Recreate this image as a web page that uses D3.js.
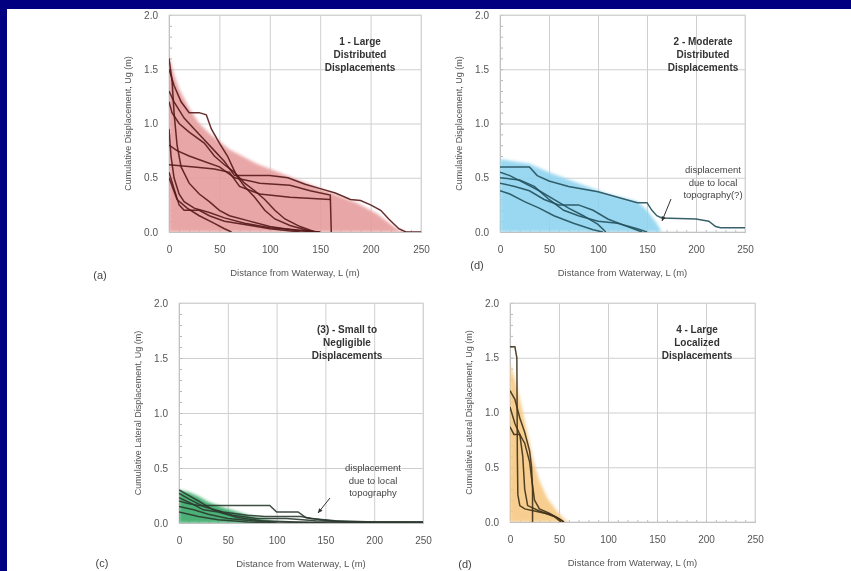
<!doctype html>
<html>
<head>
<meta charset="utf-8">
<script src="https://d3js.org/d3.v7.min.js"></script>
<style>
  html, body { margin: 0; padding: 0; background: #000080; }
  svg { display: block; filter: blur(0.45px); }
  text { font-family: "Liberation Sans", Arial, sans-serif; }
</style>
</head>
<body>
<svg width="851" height="571"></svg>
<script>
// ---- data ----
const xTicks = [0, 50, 100, 150, 200, 250];
const yTicks = [0, 0.5, 1.0, 1.5, 2.0];

// panel 1 (a) - large distributed
const bandA = [[0,1.62],[5,1.45],[10,1.32],[20,1.14],[30,1.0],[40,0.91],[60,0.76],[87,0.63],[120,0.51],[153,0.39],[186,0.27],[206,0.17],[226,0.03],[234,0]];
const linesA = [
  [[0,1.5],[5,1.35],[12,1.2],[20,1.1],[30,1.1],[37,1.08],[42,0.95],[50,0.82],[58,0.7],[63,0.6],[67,0.52],[75,0.42],[85,0.32],[95,0.2],[105,0.12],[120,0.06],[135,0.02],[145,0]],
  [[0,1.3],[5,1.2],[15,1.05],[25,0.95],[35,0.85],[45,0.75],[55,0.65],[65,0.52],[80,0.52],[100,0.52],[118,0.5],[135,0.44],[150,0.4],[165,0.36],[180,0.3],[190,0.29],[200,0.25],[210,0.2],[218,0.12],[228,0.03],[235,0],[250,0]],
  [[0,1.2],[3,1.1],[10,1.0],[20,0.92],[35,0.82],[45,0.7],[55,0.62],[65,0.55],[75,0.45],[85,0.38],[95,0.3],[105,0.2],[115,0.12],[130,0.05],[145,0]],
  [[0,0.8],[8,0.75],[20,0.7],[35,0.65],[50,0.6],[65,0.5],[90,0.45],[120,0.43],[140,0.38],[160,0.34],[161,0]],
  [[0,0.62],[25,0.6],[45,0.58],[60,0.55],[70,0.42],[90,0.35],[120,0.32],[160,0.3]],
  [[0,0.95],[2,0.7],[5,0.5],[10,0.35],[15,0.28],[25,0.22],[40,0.18],[55,0.13],[75,0.08],[100,0.04],[125,0.02],[150,0]],
  [[0,0.55],[5,0.4],[10,0.25],[15,0.2],[30,0.2],[40,0.15],[55,0.1],[75,0.07],[100,0.03],[130,0]],
  [[0,0.5],[8,0.3],[18,0.22],[30,0.15],[45,0.08],[55,0.03],[62,0]],
  [[0,1.6],[3,1.4],[5,1.1],[8,0.8],[12,0.6],[20,0.45],[30,0.35],[40,0.28],[50,0.2],[60,0.15],[80,0.1],[100,0.05],[130,0.01],[150,0]]
];

// panel 2 (b) - moderate distributed
const bandB = [[0,0.67],[30,0.63],[50,0.55],[80,0.45],[110,0.35],[140,0.28],[150,0.2],[160,0.08],[165,0]];
const linesB = [
  [[0,0.6],[30,0.6],[38,0.52],[50,0.47],[70,0.42],[100,0.37],[120,0.32],[140,0.27],[150,0.27],[155,0.2],[160,0.15],[165,0.13],[200,0.12],[213,0.1],[220,0.05],[225,0.04],[250,0.04]],
  [[0,0.55],[10,0.52],[25,0.45],[40,0.38],[55,0.3],[70,0.22],[85,0.15],[100,0.07],[108,0]],
  [[0,0.45],[15,0.42],[30,0.38],[45,0.3],[60,0.25],[80,0.25],[95,0.2],[110,0.12],[130,0.05],[145,0]],
  [[0,0.5],[20,0.48],[35,0.42],[50,0.3],[65,0.2],[80,0.15],[100,0.1],[120,0.08],[140,0.03],[150,0]],
  [[0,0.38],[10,0.35],[25,0.28],[40,0.22],[55,0.15],[75,0.08],[95,0.02],[105,0]]
];

// panel 3 (c) - small to negligible
const bandC = [[0,0.3],[10,0.28],[20,0.24],[30,0.19],[45,0.14],[60,0.1],[75,0.06],[90,0.03],[100,0]];
const linesC = [
  [[0,0.2],[8,0.18],[20,0.16],[93,0.16],[100,0.1],[122,0.1],[130,0.05],[145,0.03],[170,0.01],[250,0.01]],
  [[0,0.27],[10,0.22],[25,0.15],[45,0.1],[70,0.07],[88,0.06],[125,0.06],[135,0.04],[160,0.02],[200,0.01],[250,0.01]],
  [[0,0.3],[8,0.26],[20,0.2],[35,0.12],[55,0.07],[80,0.04],[110,0.04],[140,0.02],[180,0.01],[250,0.005]],
  [[0,0.15],[15,0.12],[30,0.08],[50,0.04],[75,0.02],[100,0.01],[150,0]],
  [[0,0.23],[12,0.18],[25,0.12],[40,0.1],[60,0.05],[85,0.02],[120,0.01],[200,0]],
  [[0,0.1],[20,0.06],[40,0.03],[70,0.01],[100,0]]
];

// panel 4 (d) - large localized
const bandD = [[0,1.45],[5,1.3],[12,1.05],[18,0.8],[24,0.55],[30,0.38],[38,0.22],[48,0.1],[55,0.03],[60,0]];
const linesD = [
  [[0,1.6],[5,1.6],[7,1.5],[7.5,0.6],[8,0.25],[10,0.15],[15,0.12],[25,0.1],[40,0.07],[48,0.04],[55,0]],
  [[0,1.2],[5,1.12],[10,0.95],[15,0.82],[20,0.65],[22,0.5],[23,0.3],[23,0]],
  [[0,0.87],[4,0.8],[10,0.8],[15,0.72],[20,0.55],[22,0.4],[25,0.2],[30,0.12],[40,0.08],[50,0.03],[55,0]],
  [[0,1.05],[5,0.9],[10,0.8],[13,0.6],[15,0.3],[18,0.15],[30,0.1],[45,0.05],[52,0]]
];

const titles = [
  ["1 - Large", "Distributed", "Displacements"],
  ["2 - Moderate", "Distributed", "Displacements"],
  ["(3) - Small to", "Negligible", "Displacements"],
  ["4 - Large", "Localized", "Displacements"]
];
const notes = [null, ["displacement", "due to local", "topography(?)"], ["displacement", "due to local", "topography"], null];
const panelTags = ["(a)", "(d)", "(c)", "(d)"];
const yTitles = ["Cumulative Displacement, Ug (m)", "Cumulative Displacement, Ug (m)",
                 "Cumulative Lateral Displacement, Ug (m)", "Cumulative Lateral Displacement, Ug (m)"];
const xTitle = "Distance from Waterway, L (m)";

// ---- layout ----
const panels = [
  { band: bandA, lines: linesA, l: 169, r: 421, t: 15, b: 232, fill: "#e79c9c", line: "#551818",
    titleX: 360, tag: [100, 279], note: null },
  { band: bandB, lines: linesB, l: 500, r: 745, t: 15, b: 232, fill: "#8fd4f0", line: "#22505c",
    titleX: 703, tag: [477, 269], note: { x: 713, y: 170, from: [671, 199], to: [662, 221] } },
  { band: bandC, lines: linesC, l: 179, r: 423, t: 303, b: 523, fill: "#38a866", line: "#2b3a30",
    titleX: 347, tag: [102, 567], note: { x: 373, y: 468, from: [330, 498], to: [318, 513] } },
  { band: bandD, lines: linesD, l: 510, r: 755, t: 303, b: 522, fill: "#f6c983", line: "#3e3118",
    titleX: 697, tag: [465, 568], note: null }
];

const svg = d3.select("svg");
svg.append("rect").attr("x", 7).attr("y", 9).attr("width", 844).attr("height", 562).attr("fill", "#ffffff");

const defs = svg.append("defs");
defs.append("filter").attr("id", "soft").attr("x", "-10%").attr("y", "-10%").attr("width", "120%").attr("height", "120%")
  .append("feGaussianBlur").attr("stdDeviation", 1.6);

panels.forEach((p, i) => {
  const x = d3.scaleLinear().domain([0, 250]).range([p.l, p.r]);
  const y = d3.scaleLinear().domain([0, 2]).range([p.b, p.t]);
  const g = svg.append("g");

  defs.append("clipPath").attr("id", "clip" + i)
    .append("rect").attr("x", p.l).attr("y", p.t).attr("width", p.r - p.l).attr("height", p.b - p.t);

  // grid
  g.append("g").attr("transform", `translate(0,${p.b})`)
    .call(d3.axisBottom(x).tickValues(xTicks).tickSize(-(p.b - p.t)).tickFormat(""))
    .call(s => s.select(".domain").remove())
    .call(s => s.selectAll("line").attr("stroke", "#cfcfcf"));
  g.append("g").attr("transform", `translate(${p.l},0)`)
    .call(d3.axisLeft(y).tickValues(yTicks).tickSize(-(p.r - p.l)).tickFormat(""))
    .call(s => s.select(".domain").remove())
    .call(s => s.selectAll("line").attr("stroke", "#cfcfcf"));
  // minor ticks
  g.append("g").attr("transform", `translate(${p.l},0)`)
    .call(d3.axisRight(y).ticks(20).tickSize(3).tickFormat(""))
    .call(s => s.select(".domain").attr("stroke", "#aaaaaa"))
    .call(s => s.selectAll("line").attr("stroke", "#b5b5b5"));
  g.append("g").attr("transform", `translate(0,${p.b})`)
    .call(d3.axisTop(x).ticks(25).tickSize(2).tickFormat(""))
    .call(s => s.select(".domain").attr("stroke", "#aaaaaa"))
    .call(s => s.selectAll("line").attr("stroke", "#bbbbbb"));
  g.append("rect").attr("x", p.l).attr("y", p.t).attr("width", p.r - p.l).attr("height", p.b - p.t)
    .attr("fill", "none").attr("stroke", "#d8d8d8");

  // band
  const area = d3.area().x(d => x(d[0])).y0(y(0)).y1(d => y(d[1]));
  g.append("g").attr("clip-path", `url(#clip${i})`)
    .append("path").datum(p.band).attr("d", area)
    .attr("fill", p.fill).attr("fill-opacity", 0.9).attr("filter", "url(#soft)");

  // lines
  const line = d3.line().x(d => x(d[0])).y(d => y(d[1]));
  g.append("g").attr("clip-path", `url(#clip${i})`)
    .selectAll("path").data(p.lines).enter()
    .append("path").attr("d", line)
    .attr("fill", "none").attr("stroke", p.line).attr("stroke-width", 1.5).attr("stroke-opacity", 0.9);

  // tick labels
  g.append("g").attr("transform", `translate(${p.l},0)`)
    .call(d3.axisLeft(y).tickValues(yTicks).tickSize(0).tickPadding(11).tickFormat(d3.format(".1f")))
    .call(s => s.select(".domain").remove())
    .call(s => s.selectAll("text").attr("fill", "#555").style("font-size", "10px"));
  g.append("g").attr("transform", `translate(0,${p.b})`)
    .call(d3.axisBottom(x).tickValues(xTicks).tickSize(0).tickPadding(14))
    .call(s => s.select(".domain").remove())
    .call(s => s.selectAll("text").attr("fill", "#555").style("font-size", "10px"));

  // axis titles
  g.append("text").attr("transform", `translate(${p.l - 41},${(p.t + p.b) / 2}) rotate(-90)`)
    .attr("text-anchor", "middle").attr("dy", "0.35em")
    .style("font-size", "9px").attr("fill", "#555").text(yTitles[i]);
  g.append("text").attr("x", (p.l + p.r) / 2).attr("y", p.b + 44)
    .attr("text-anchor", "middle").style("font-size", "9.5px").attr("fill", "#555").text(xTitle);
  g.append("text").attr("x", p.tag[0]).attr("y", p.tag[1])
    .attr("text-anchor", "middle").style("font-size", "11px").attr("fill", "#444").text(panelTags[i]);

  // panel title
  g.append("g").selectAll("text").data(titles[i]).enter()
    .append("text").attr("x", p.titleX).attr("y", (d, k) => p.t + 30 + k * 13)
    .attr("text-anchor", "middle").style("font-size", "10px").style("font-weight", "bold")
    .attr("fill", "#333").text(d => d);

  // annotation
  if (p.note) {
    g.append("g").selectAll("text").data(notes[i]).enter()
      .append("text").attr("x", p.note.x).attr("y", (d, k) => p.note.y + 3 + k * 12.5)
      .attr("text-anchor", "middle").style("font-size", "9.5px").attr("fill", "#444").text(d => d);
    const [x1, y1] = p.note.from, [x2, y2] = p.note.to;
    const ang = Math.atan2(y2 - y1, x2 - x1);
    g.append("line").attr("x1", x1).attr("y1", y1).attr("x2", x2).attr("y2", y2)
      .attr("stroke", "#333").attr("stroke-width", 1);
    const hl = 5, hw = 0.45;
    g.append("path")
      .attr("d", `M${x2},${y2} L${x2 - hl * Math.cos(ang - hw)},${y2 - hl * Math.sin(ang - hw)} L${x2 - hl * Math.cos(ang + hw)},${y2 - hl * Math.sin(ang + hw)} Z`)
      .attr("fill", "#333");
  }
});
</script>
</body>
</html>
